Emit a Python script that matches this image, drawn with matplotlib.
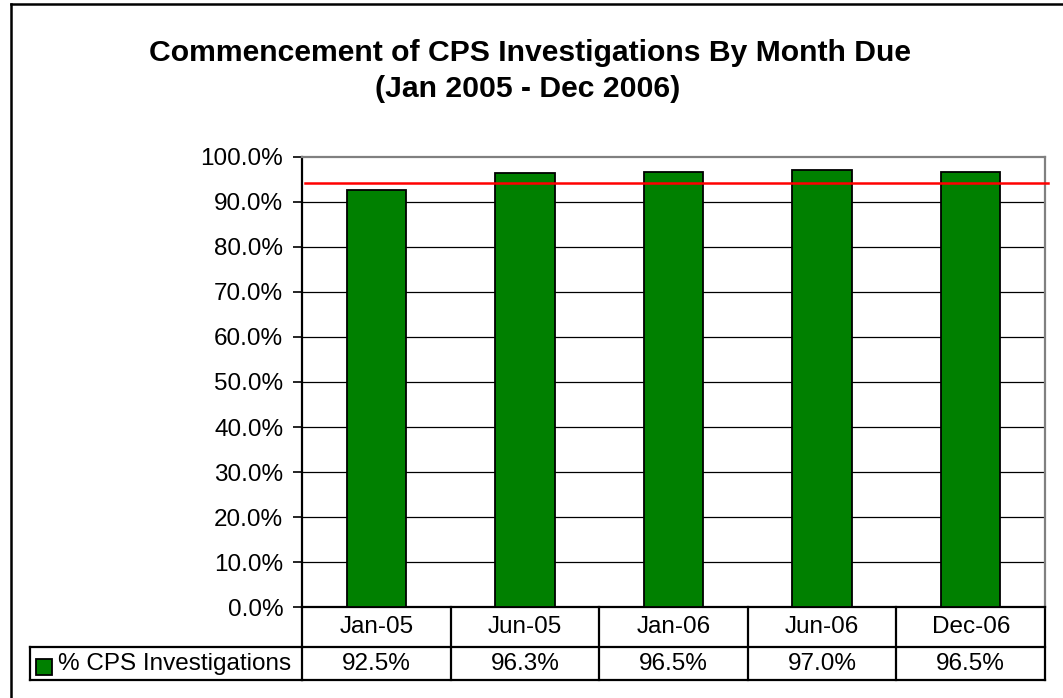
import matplotlib
matplotlib.use("Agg")
import matplotlib.pyplot as plt
from matplotlib.patches import Rectangle
import numpy as np

plt.rcParams['font.family'] = ['Liberation Sans', 'DejaVu Sans']

months = ["Jan-05", "Jun-05", "Jan-06", "Jun-06", "Dec-06"]
pct_cps = [92.5, 96.3, 96.5, 97.0, 96.5]
target = 94.2
series_name = "% CPS Investigations"
yticks = np.arange(0, 101, 10)

W, H = 1063, 698
fig = plt.figure(figsize=(W / 100, H / 100), dpi=100)
fs = 17.5

def fx(px):
    return px / W

def fy(py):
    return 1 - py / H

# outer chart frame (cropped on the right and bottom)
fig.add_artist(plt.Line2D([fx(11), fx(11)], [fy(4), fy(720)], color='black', lw=1.8))
fig.add_artist(plt.Line2D([fx(11), fx(1100)], [fy(4), fy(4)], color='black', lw=1.8))

fig.text(fx(530), fy(61), "Commencement of CPS Investigations By Month Due",
         ha='center', va='baseline', fontsize=21.7, fontweight='bold')
fig.text(fx(528), fy(97), "(Jan 2005 - Dec 2006)",
         ha='center', va='baseline', fontsize=21.7, fontweight='bold')

left, right, top, bottom = 302, 1045, 156.7, 607.3
ax = fig.add_axes([fx(left), fy(bottom), fx(right - left), (bottom - top) / H])

x = np.arange(len(months))
ax.bar(x, pct_cps, width=0.4, color='#008000', edgecolor='black', linewidth=1.3, zorder=3)
ax.set_xlim(-0.5, len(months) - 0.5)
ax.set_ylim(0, 100)

for v in yticks[1:-1]:
    ax.axhline(v, color='black', lw=0.9, zorder=1)

ax.plot([-0.48, len(months) - 0.48], [target, target], color='#ff0000', lw=1.8,
        zorder=4, clip_on=False)

ax.set_yticks(yticks)
ax.set_yticklabels([f"{v:.1f}%" for v in yticks], fontsize=fs)
ax.tick_params(axis='y', length=6.5, width=1.2, pad=7, direction='out')
ax.set_xticks([])

for s in ['top', 'right']:
    ax.spines[s].set_color('#808080')
    ax.spines[s].set_linewidth(1.6)
ax.spines['left'].set_linewidth(1.6)
ax.spines['bottom'].set_linewidth(1.6)

# data table under the plot
trans = ax.get_xaxis_transform()
ph = bottom - top
r1 = -(647.3 - bottom) / ph
r2 = -(680.3 - bottom) / ph
lab_left = -(left - 30) / (right - left)
tb = dict(color='black', lw=1.6, clip_on=False)

ax.plot([-0.5, len(months) - 0.5], [r1, r1], transform=trans, **tb)
ax.plot([-0.5, len(months) - 0.5], [r2, r2], transform=trans, **tb)
for b in np.arange(len(months) + 1) - 0.5:
    ax.plot([b, b], [0, r2], transform=trans, **tb)
ax.plot([lab_left, 0], [r1, r1], transform=ax.transAxes, **tb)
ax.plot([lab_left, 0], [r2, r2], transform=ax.transAxes, **tb)
ax.plot([lab_left, lab_left], [r1, r2], transform=ax.transAxes, **tb)

for i, (m, v) in enumerate(zip(months, pct_cps)):
    ax.text(i, r1 / 2, m, transform=trans, ha='center', va='center', fontsize=fs)
    ax.text(i, (r1 + r2) / 2, f"{v:.1f}%", transform=trans, ha='center', va='center', fontsize=fs)

fig.add_artist(Rectangle((fx(36), fy(674.5)), fx(16), 16 / H, facecolor='#008000',
                         edgecolor='black', lw=1.3))
fig.text(fx(58), fy(664), series_name, ha='left', va='center', fontsize=fs)

fig.savefig("out.png", dpi=100)
